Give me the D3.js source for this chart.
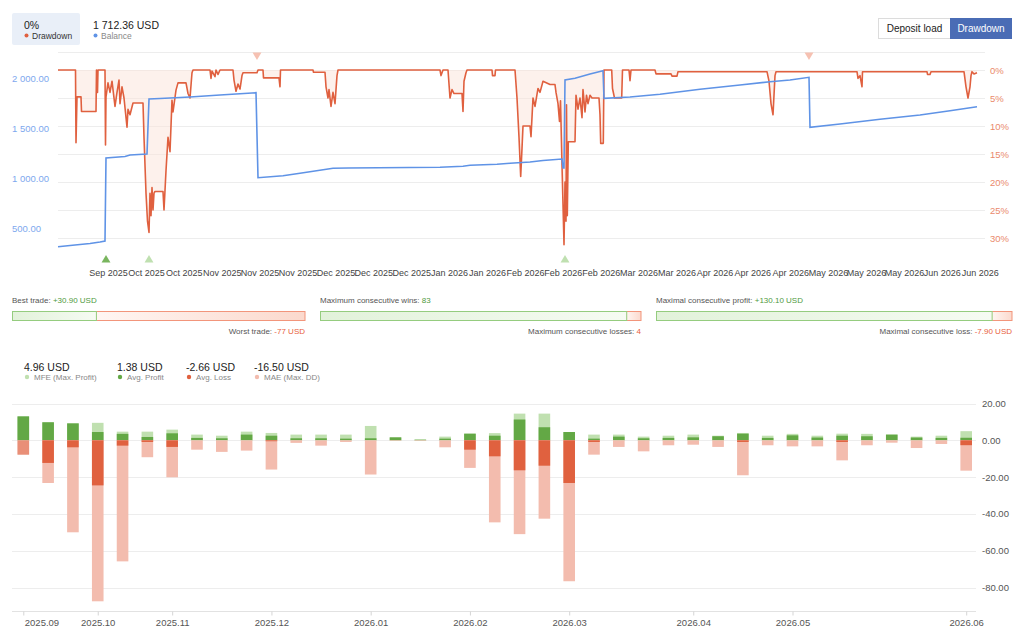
<!DOCTYPE html>
<html>
<head>
<meta charset="utf-8">
<script src="https://cdn.jsdelivr.net/npm/d3@7"></script>
<style>
body { margin: 0; background: #fff; }
svg { font-family: "Liberation Sans", Arial, sans-serif; }
</style>
</head>
<body>
<svg id="chart" width="1024" height="635"></svg>
<script>
// ---- data ----
// drawdown in % by trade step
var drawdown = [[0,0],[17.5,0],[18,13],[19,4.8],[23,4.8],[23.5,7.4],[38,7.4],[38.5,0],[39.5,4],[40,0],[47,0],[47.5,13.4],[48,4.8],[50,2.3],[52,4],[54,2],[57,6.5],[59,4],[61,1.8],[62,6],[64,3],[66,5],[69,10.2],[70,7],[72,8],[75,5.9],[85,5.9],[86,12],[88,22],[89.5,27],[91,29],[92,22],[93,26],[94,21],[95,25],[96,22],[97,21.7],[105,21.7],[106,25],[108,18],[109,15],[110,12],[112,14.6],[114,5.4],[115,7.5],[118,3.6],[120,2.3],[128,2.3],[130,4.2],[132,5],[134,0.5],[135,0],[152,0],[153,1.5],[154,0.2],[157,1.2],[158,0],[160,0.8],[162,0],[175,0],[176,1.8],[178,3.8],[180,2.5],[182,3.4],[184,1],[185,0.5],[199,0.5],[200,0],[205,0],[205.5,1.4],[221,1.4],[222,3],[222.5,0],[255,0],[255.5,0.4],[267,0.4],[268,3],[270,5],[271,3.5],[273,6.5],[275,4],[277,6],[279,1],[280,0],[382,0],[383,1],[385,0],[390,0],[392,5],[394,3.5],[396,4.2],[404,4.2],[405,7.4],[406,2],[408,0.5],[409,0],[434,0],[434.5,1],[437,1],[437.5,0],[457,0],[459,5],[461,12],[462.7,19],[464,14],[465,10],[472,10],[473,11.9],[475,5],[477,6.5],[480,3.3],[482,4],[485,2],[492,2.6],[497,2.6],[498,4],[500,6],[501.5,9.2],[502.5,5.5],[504,17],[505,24],[506,31.2],[507,20],[508,27],[508.5,6.2],[509.3,26],[510.3,12.8],[517,12.8],[518,4.5],[520,7],[522,5],[524,8.5],[525,3.5],[527,7.5],[528.5,4.5],[530,6],[532,4.5],[534,5],[541,5],[542,8],[542.7,13.1],[545.3,13.1],[546,0],[553.7,0],[554.5,3.3],[556.5,5],[563.7,5],[564.5,0],[571,0],[572,1.9],[573,0],[597,0],[598,0.7],[613,0.7],[614,1.1],[619,1.1],[620,0.3],[709,0.3],[711,2],[713,6],[715,8],[717,1],[718,0.3],[799,0.3],[800,1.5],[802,1],[804,3],[804.5,0.3],[869,0.3],[869.5,0.8],[872,0.8],[873,0.3],[906,0.3],[908,3],[910,5],[912,3],[913,1],[914,0.3],[916,0.7],[919,0.5]];

// balance in USD by trade step
var balance = [[0,313],[17,330],[32,345],[42,360],[47,370],[48,1200],[67,1215],[72,1230],[89,1240],[91,1790],[102,1795],[112,1800],[132,1810],[162,1830],[198,1853],[200,1003],[225,1023],[242,1047],[275,1097],[290,1100],[382,1107],[405,1117],[412,1127],[439,1137],[452,1147],[472,1160],[485,1175],[504,1190],[505,1100],[506,1100],[507,1980],[517,1997],[532,2040],[545,2073],[546,1797],[572,1810],[602,1837],[642,1887],[682,1930],[712,1963],[732,1980],[751,2007],[752,1507],[782,1540],[822,1587],[862,1630],[892,1673],[919,1712.36]];

var depositSteps = [48, 91, 507];
var withdrawSteps = [199, 751];

var dateLabels = ["Sep 2025","Oct 2025","Oct 2025","Nov 2025","Nov 2025","Nov 2025","Dec 2025","Dec 2025","Dec 2025","Jan 2026","Jan 2026","Feb 2026","Feb 2026","Feb 2026","Mar 2026","Mar 2026","Apr 2026","Apr 2026","Apr 2026","May 2026","May 2026","May 2026","Jun 2026","Jun 2026"];
var balanceTicks = [500, 1000, 1500, 2000];
var pctTicks = [0, 5, 10, 15, 20, 25, 30];

// trade stats
var bestTrade = 30.90, worstTrade = -77;
var maxWins = 83, maxLosses = 4;
var maxProfit = 130.10, maxLoss = -7.90;

// weekly MFE / MAE
var mfe =       [13, 9.8, 9.2, 9.5, 4.7, 4.7, 5.8, 3.1, 2.5, 4.7, 4.0, 3.1, 3.1, 3.1, 7.8, 1.6, 0.5, 2.0, 3.6, 3.9, 14.5, 14.5, 4.5, 3.1, 3.1, 2.0, 2.5, 3.1, 2.5, 4.0, 2.5, 3.5, 2.5, 3.6, 3.5, 3.1, 2.0, 2.5, 4.96];
var avgProfit = [13, 9.8, 9.2, 4.5, 3.5, 1.8, 3.8, 1.3, 1.1, 3.1, 2.5, 1.1, 1.1, 0.9, 1.1, 1.6, 0.3, 0.9, 3.6, 2.5, 11.3, 7.1, 4.5, 0.9, 2.0, 1.1, 1.3, 1.6, 2.2, 3.6, 1.3, 2.7, 1.5, 2.5, 2.2, 3.1, 1.5, 1.3, 1.38];
var avgLoss =   [-7.8, -12.3, -3.8, -24.5, -2.9, -0.9, -3.6, 0, 0, 0, -0.5, 0, 0, 0, 0, 0, 0, 0, -5.1, -8.7, -16.3, -13.8, -23.2, -0.9, 0, 0, 0, 0, 0, -0.9, 0, 0, 0, -0.9, 0, 0, 0, 0, -2.66];
var mae =       [-7.8, -23.2, -50, -87.5, -65.8, -9.2, -20.1, -5.1, -6.3, -5.6, -15.9, -1.4, -2.9, -0.9, -18.6, -0.3, -0.3, -3.8, -15.0, -44.6, -51, -42.6, -76.6, -7.8, -3.6, -6.0, -2.7, -2.4, -3.6, -19.0, -2.7, -3.3, -3.3, -10.9, -2.7, -1.3, -4.2, -2.0, -16.5];
var monthWeeks = [0, 3, 6, 10, 14, 18, 22, 27, 31, 38];
var monthLabels = ["2025.09","2025.10","2025.11","2025.12","2026.01","2026.02","2026.03","2026.04","2026.05","2026.06"];
var valueTicks = [20, 0, -20, -40, -60, -80];

var red = "#e0603f", blue = "#5f93e6", grid = "#ededed";

var svg = d3.select("#chart");

// ---- header ----
var head = svg.append("g");
head.append("rect").attr("x", 12).attr("y", 13).attr("width", 68).attr("height", 32)
    .attr("rx", 2).attr("fill", "#e9eff8");
head.append("text").attr("x", 24).attr("y", 29).attr("font-size", 10.5).attr("fill", "#222").text("0%");
head.append("circle").attr("cx", 26.5).attr("cy", 35.5).attr("r", 2).attr("fill", red);
head.append("text").attr("x", 32).attr("y", 39).attr("font-size", 8.5).attr("fill", "#333").text("Drawdown");
head.append("text").attr("x", 93).attr("y", 29).attr("font-size", 10.5).attr("fill", "#222")
    .text(d3.format(",.2f")(balance[balance.length - 1][1]).replace(/,/g, " ") + " USD");
head.append("circle").attr("cx", 95.5).attr("cy", 35.5).attr("r", 2).attr("fill", blue);
head.append("text").attr("x", 101).attr("y", 39).attr("font-size", 8.5).attr("fill", "#888").text("Balance");

// buttons
head.append("rect").attr("x", 878.5).attr("y", 18.5).attr("width", 72).attr("height", 20)
    .attr("fill", "#fff").attr("stroke", "#dcdcdc");
head.append("text").attr("x", 914.5).attr("y", 32).attr("text-anchor", "middle")
    .attr("font-size", 10).attr("fill", "#222").text("Deposit load");
head.append("rect").attr("x", 950).attr("y", 18).attr("width", 62).attr("height", 21).attr("fill", "#4a6cb5");
head.append("text").attr("x", 981).attr("y", 32).attr("text-anchor", "middle")
    .attr("font-size", 10).attr("fill", "#fff").text("Drawdown");

// ---- balance / drawdown chart ----
var x = d3.scaleLinear().domain([0, 919]).range([58, 977]);
var yPct = d3.scaleLinear().domain([0, 30]).range([70, 238]);
var yBal = d3.scaleLinear().domain([500, 2000]).range([228, 78]);

var upper = svg.append("g");

upper.append("line").attr("x1", 58).attr("x2", 985).attr("y1", 52.5).attr("y2", 52.5).attr("stroke", grid);
upper.selectAll(".pgrid").data(pctTicks).enter().append("line")
    .attr("x1", 58).attr("x2", 985)
    .attr("y1", d => Math.round(yPct(d)) + 0.5).attr("y2", d => Math.round(yPct(d)) + 0.5)
    .attr("stroke", grid);

upper.selectAll(".plab").data(pctTicks).enter().append("text")
    .attr("x", 990).attr("y", d => yPct(d) + 3.5)
    .attr("font-size", 9.5).attr("fill", "#ea8a6c")
    .text(d => d + "%");

upper.selectAll(".blab").data(balanceTicks).enter().append("text")
    .attr("x", 12).attr("y", d => yBal(d) + 3.5)
    .attr("font-size", 9.5).attr("fill", "#7ea8ee")
    .text(d => d3.format(",.2f")(d).replace(/,/g, " "));

// drawdown fill and line
var ddArea = d3.area().x(d => x(d[0])).y0(yPct(0)).y1(d => yPct(d[1]));
upper.append("path").datum(drawdown).attr("d", ddArea)
    .attr("fill", "#fbe3d9").attr("fill-opacity", 0.5);
upper.append("path").datum(drawdown)
    .attr("d", d3.line().x(d => x(d[0])).y(d => yPct(d[1])))
    .attr("fill", "none").attr("stroke", red).attr("stroke-width", 1.6).attr("stroke-linejoin", "round");

// balance line
upper.append("path").datum(balance)
    .attr("d", d3.line().x(d => x(d[0])).y(d => yBal(d[1])))
    .attr("fill", "none").attr("stroke", blue).attr("stroke-width", 1.6);

// deposit / withdrawal markers
var tri = d3.symbol().type(d3.symbolTriangle).size(34);
upper.selectAll(".dep").data(depositSteps).enter().append("path")
    .attr("d", tri)
    .attr("transform", d => "translate(" + x(d) + ",260)")
    .attr("fill", (d, i) => i === 0 ? "#79b55e" : "#bfe0b0");
upper.selectAll(".wd").data(withdrawSteps).enter().append("path")
    .attr("d", tri)
    .attr("transform", d => "translate(" + x(d) + ",55) rotate(180)")
    .attr("fill", "#f6c1b2");

// date axis
var xAxis = d3.axisBottom(x)
    .tickValues(d3.range(dateLabels.length).map(i => 50 + i * 37.9))
    .tickFormat((d, i) => dateLabels[i])
    .tickSize(0).tickPadding(0);
var xg = upper.append("g").attr("transform", "translate(0,270)").call(xAxis);
xg.select(".domain").remove();
xg.selectAll("text").attr("font-size", 9).attr("fill", "#444")
    .attr("font-family", "Liberation Sans, Arial, sans-serif");

// ---- trade stats bars ----
function statBar(x0, x1, title, goodVal, goodTxt, badLabel, badVal, badTxt, id) {
    var g = svg.append("g");
    var t = g.append("text").attr("x", x0).attr("y", 303).attr("font-size", 8).attr("fill", "#555");
    t.append("tspan").text(title);
    t.append("tspan").attr("fill", "#4f9a3e").text(goodTxt);

    var s = d3.scaleLinear().domain([0, goodVal + Math.abs(badVal)]).range([x0, x1]);
    var split = s(goodVal);

    var defs = svg.append("defs");
    var gg = defs.append("linearGradient").attr("id", "g" + id);
    gg.append("stop").attr("offset", 0).attr("stop-color", "#e2f2da");
    gg.append("stop").attr("offset", 1).attr("stop-color", "#f6fbf3");
    var rg = defs.append("linearGradient").attr("id", "r" + id);
    rg.append("stop").attr("offset", 0).attr("stop-color", "#fff6f3");
    rg.append("stop").attr("offset", 1).attr("stop-color", "#fbd9cd");

    g.append("rect").attr("x", split).attr("y", 311.5).attr("width", x1 - split).attr("height", 9)
        .attr("fill", "url(#r" + id + ")").attr("stroke", "#f2957b");
    g.append("rect").attr("x", x0 + 0.5).attr("y", 311.5).attr("width", split - x0).attr("height", 9)
        .attr("fill", "url(#g" + id + ")").attr("stroke", "#95cc7f");

    var b = g.append("text").attr("x", x1).attr("y", 334).attr("text-anchor", "end")
        .attr("font-size", 8).attr("fill", "#555");
    b.append("tspan").text(badLabel);
    b.append("tspan").attr("fill", "#e8603c").text(badTxt);
}
statBar(12, 305, "Best trade: ", bestTrade, "+" + bestTrade.toFixed(2) + " USD",
    "Worst trade: ", worstTrade, worstTrade + " USD", 1);
statBar(320, 641, "Maximum consecutive wins: ", maxWins, String(maxWins),
    "Maximum consecutive losses: ", maxLosses, String(maxLosses), 2);
statBar(656, 1012, "Maximal consecutive profit: ", maxProfit, "+" + maxProfit.toFixed(2) + " USD",
    "Maximal consecutive loss: ", maxLoss, maxLoss.toFixed(2) + " USD", 3);

// ---- MFE / MAE chart ----
var colMfe = "#c0e0b0", colProfit = "#63a845", colLoss = "#e0613f", colMae = "#f3bcae";
var last = mfe.length - 1;
var legend = [
    { v: mfe[last], name: "MFE (Max. Profit)", c: colMfe, x: 24 },
    { v: avgProfit[last], name: "Avg. Profit", c: colProfit, x: 117 },
    { v: avgLoss[last], name: "Avg. Loss", c: colLoss, x: 186 },
    { v: mae[last], name: "MAE (Max. DD)", c: colMae, x: 254 }
];
var lg = svg.append("g").selectAll("g").data(legend).enter().append("g");
lg.append("text").attr("x", d => d.x).attr("y", 371).attr("font-size", 10.5).attr("fill", "#222")
    .text(d => d.v.toFixed(2) + " USD");
lg.append("circle").attr("cx", d => d.x + 3).attr("cy", 377).attr("r", 2.2).attr("fill", d => d.c);
lg.append("text").attr("x", d => d.x + 10).attr("y", 380).attr("font-size", 8).attr("fill", "#888")
    .text(d => d.name);

var xb = d3.scaleLinear().domain([0, last]).range([23.3, 966.2]);
var yb = d3.scaleLinear().domain([-80, 20]).range([587.5, 403.5]);
var barW = 11.6;

var low = svg.append("g");
low.selectAll(".vgrid").data(valueTicks).enter().append("line")
    .attr("x1", 12).attr("x2", 976)
    .attr("y1", d => Math.round(yb(d)) + 0.5).attr("y2", d => Math.round(yb(d)) + 0.5)
    .attr("stroke", grid);
low.selectAll(".vlab").data(valueTicks).enter().append("text")
    .attr("x", 982).attr("y", d => yb(d) + 3.5)
    .attr("font-size", 9.5).attr("fill", "#555")
    .text(d => d.toFixed(2));

function bars(vals, color, opacity) {
    low.append("g").selectAll("rect").data(vals).enter().append("rect")
        .attr("x", (d, i) => xb(i) - barW / 2)
        .attr("y", d => yb(Math.max(d, 0)))
        .attr("width", barW)
        .attr("height", d => Math.abs(yb(d) - yb(0)))
        .attr("fill", color)
        .attr("fill-opacity", opacity || 1);
}
bars(mfe, colMfe);
bars(avgProfit, colProfit);
bars(mae, colMae);
bars(avgLoss, colLoss, (d, i) => i === 0 ? 0.5 : 1);

// week axis
var xbAxis = d3.axisBottom(xb)
    .tickValues(monthWeeks)
    .tickFormat((d, i) => monthLabels[i])
    .tickSize(4).tickSizeOuter(0).tickPadding(4);
var bg = low.append("g").attr("transform", "translate(0,611.5)").call(xbAxis);
bg.select(".domain").attr("d", "M12,0H976").attr("stroke", "#e2e2e2");
bg.selectAll("line").attr("stroke", "#d5d5d5");
bg.selectAll("text").attr("font-size", 9.5).attr("fill", "#555")
    .attr("font-family", "Liberation Sans, Arial, sans-serif");
bg.select(".tick text").attr("text-anchor", "start").attr("dx", 1);
</script>
</body>
</html>
